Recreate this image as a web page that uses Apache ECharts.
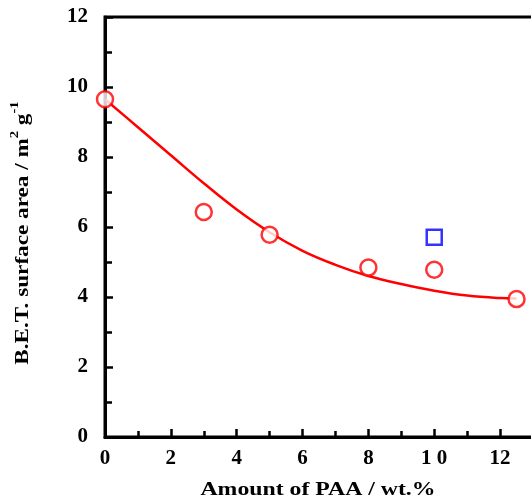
<!DOCTYPE html>
<html>
<head>
<meta charset="utf-8">
<script src="https://cdn.jsdelivr.net/npm/echarts@6/dist/echarts.min.js"></script>
<style>
html,body{margin:0;padding:0;background:#fff;}
#chart{width:531px;height:501px;}
</style>
</head>
<body>
<div id="chart"></div>
<script>
// Measured points (red circles)
const paaAmount = [0, 3, 5, 8, 10, 12.5];
const surfaceArea = [9.65, 6.43, 5.78, 4.84, 4.78, 3.94];
// Blue square point
const squareX = [10];
const squareY = [5.71];
// Fitted curve
const curveX = [0, 1, 2, 3, 4, 5, 6, 7, 8, 9, 10, 11, 12, 12.5];
const curveY = [9.65, 8.85, 8.05, 7.25, 6.5, 5.85, 5.32, 4.92, 4.6, 4.37, 4.18, 4.04, 3.97, 3.96];
// Axis ticks and titles
const xTicks = [0, 2, 4, 6, 8, 10, 12];
const yTicks = [0, 2, 4, 6, 8, 10, 12];
const xTitle = 'Amount of PAA / wt.%';
const yTitle = '{a|B.E.T. surface area / m}{s|2}{a| g}{s|-1}';

const fontName = '"Liberation Serif", "Times New Roman", serif';
const chart = echarts.init(document.getElementById('chart'));

const zip = (a, b) => a.map((v, i) => [v, b[i]]);

chart.setOption({
  animation: false,
  grid: {left: 105, top: 17, bottom: 64, width: 428, outerBoundsMode: 'none', containLabel: false,
         show: true, borderColor: '#000', borderWidth: 3, backgroundColor: 'transparent'},
  xAxis: {
    type: 'value', min: 0, max: 13, interval: 2,
    axisLine: {lineStyle: {color: '#000', width: 3}},
    axisTick: {inside: true, length: 8, lineStyle: {color: '#000', width: 2.5}},
    minorTick: {show: true, splitNumber: 2, length: 6, lineStyle: {color: '#000', width: 2.5}},
    splitLine: {show: false},
    axisLabel: {
      fontFamily: fontName, fontWeight: 'bold', fontSize: 21, color: '#000', margin: 11,
      formatter: v => (xTicks.includes(v) ? (v === 10 ? '1 0' : String(v)) : '')
    }
  },
  yAxis: {
    type: 'value', min: 0, max: 12, interval: 2,
    axisLine: {lineStyle: {color: '#000', width: 3}},
    axisTick: {inside: true, length: 8, lineStyle: {color: '#000', width: 2.5}},
    minorTick: {show: true, splitNumber: 2, length: 7, lineStyle: {color: '#000', width: 2.5}},
    splitLine: {show: false},
    axisLabel: {
      fontFamily: fontName, fontWeight: 'bold', fontSize: 21, color: '#000', margin: 17,
      padding: [8, 0, 0, 0],
      formatter: v => (yTicks.includes(v) ? String(v) : '')
    }
  },
  graphic: [
    {
      type: 'text', x: 318, y: 490, scaleX: 1.25, silent: true,
      style: {text: xTitle, fill: '#000', font: 'bold 19px ' + fontName, align: 'center', verticalAlign: 'middle'}
    },
    {
      type: 'text', x: 21, y: 233, rotation: Math.PI / 2, scaleX: 1.22, silent: true,
      style: {
        text: yTitle, align: 'center', verticalAlign: 'middle',
        rich: {
          a: {fontFamily: fontName, fontWeight: 'bold', fontSize: 19, fill: '#000', lineHeight: 24, verticalAlign: 'bottom'},
          s: {fontFamily: fontName, fontWeight: 'bold', fontSize: 12, fill: '#000', lineHeight: 24, verticalAlign: 'top'}
        }
      }
    }
  ],
  series: [
    {
      type: 'line', data: zip(curveX, curveY), smooth: 0.4, showSymbol: false, symbol: 'none',
      lineStyle: {color: '#ff0000', width: 2.5}, z: 2
    },
    {
      type: 'scatter', data: zip(paaAmount, surfaceArea), symbol: 'circle', symbolSize: 16,
      itemStyle: {color: '#fff', borderColor: '#ff0000', borderWidth: 2.5}, z: 3
    },
    {
      type: 'scatter', data: zip(squareX, squareY), symbol: 'rect', symbolSize: 15,
      itemStyle: {color: '#fff', borderColor: '#0000ff', borderWidth: 2.5}, z: 3
    }
  ]
});
</script>
</body>
</html>
